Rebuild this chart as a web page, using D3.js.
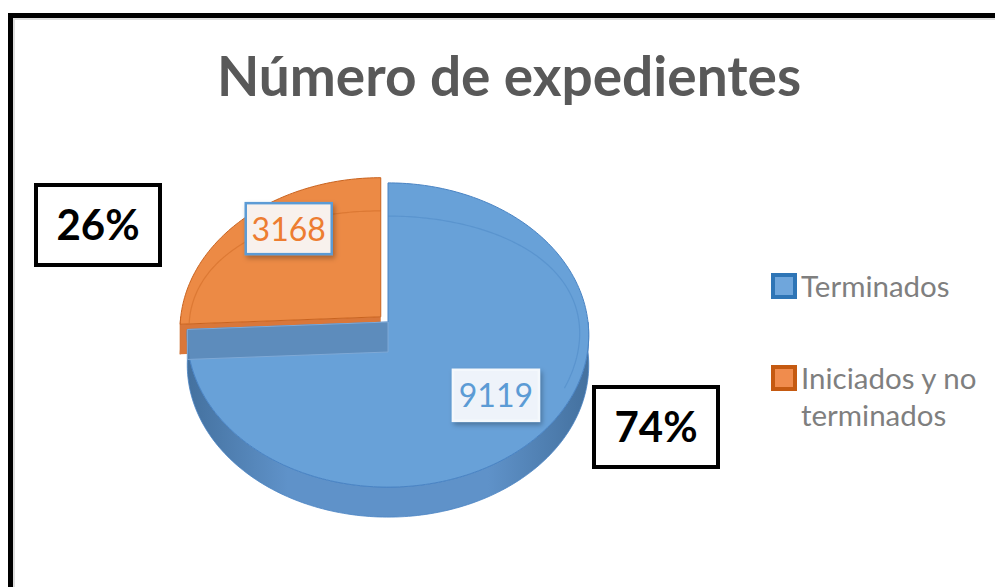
<!DOCTYPE html>
<html>
<head>
<meta charset="utf-8">
<script src="https://cdn.jsdelivr.net/npm/d3@7"></script>
<style>
  html, body { margin: 0; padding: 0; background: #ffffff; }
  svg { display: block; }
</style>
</head>
<body>
<script>
// Número de expedientes - 3D pie, drawn with d3

// data
var categories = ["Terminados", "Iniciados y no terminados"];
var values = [9119, 3168];
var legendLines = [["Terminados"], ["Iniciados y no", "terminados"]];
var chartTitle = "Número de expedientes";

var w = 995, h = 587;
var topColors = ["#68a1d8", "#ec8a45"];
var wallDark = ["#44719f", "#b8561a"];
var wallMid = ["#5f92c9", "#d9773a"];
var lineColors = ["#4a84c4", "#c9631f"];

// pie geometry (center of the top face, radii, perspective, thickness)
var cx = 388, cy = 322, RX = 200, RY = 151, K = 0.0855, D = 30;
var explode = 10;

var svg = d3.select("body").append("svg")
  .attr("width", w)
  .attr("height", h);

var defs = svg.append("defs");
var shadow = defs.append("filter").attr("id", "shadow")
  .attr("x", "-30%").attr("y", "-30%").attr("width", "160%").attr("height", "160%");
shadow.append("feDropShadow")
  .attr("dx", 2).attr("dy", 3).attr("stdDeviation", 2.5)
  .attr("flood-color", "#000").attr("flood-opacity", 0.28);

// wall gradients
[0, 1].forEach(function(i) {
  var g = defs.append("linearGradient").attr("id", "wall" + i)
    .attr("gradientUnits", "userSpaceOnUse")
    .attr("x1", cx - RX).attr("x2", cx + RX).attr("y1", 0).attr("y2", 0);
  g.append("stop").attr("offset", "0%").attr("stop-color", wallDark[i]);
  g.append("stop").attr("offset", "25%").attr("stop-color", wallMid[i]);
  g.append("stop").attr("offset", "75%").attr("stop-color", wallMid[i]);
  g.append("stop").attr("offset", "100%").attr("stop-color", wallDark[i]);
});

// frame
svg.append("rect")
  .attr("x", 10.5).attr("y", 15.5)
  .attr("width", w + 20).attr("height", h + 20)
  .attr("fill", "none").attr("stroke", "#000").attr("stroke-width", 5);
svg.append("rect")
  .attr("x", 14).attr("y", 19)
  .attr("width", w + 20).attr("height", h + 20)
  .attr("fill", "none").attr("stroke", "#dedede").attr("stroke-width", 2);

// title
svg.append("text")
  .attr("x", 509).attr("y", 96)
  .attr("text-anchor", "middle")
  .attr("font-family", "Lato, 'Open Sans', sans-serif")
  .attr("font-weight", "bold")
  .attr("font-size", 55)
  .attr("fill", "#595959")
  .text(chartTitle);

// projection of a point on the disc (angle clockwise from 12 o'clock)
function proj(a, r, dz, off) {
  var s = Math.sin(a) * r, c = Math.cos(a) * r;
  var p = 1 + K * c;
  return [cx + off[0] + RX * s / p, cy + off[1] - RY * c / p + dz];
}
// inner bevel ring, squashed more towards the back
function ring(a, off) {
  var s = Math.sin(a), c = Math.cos(a);
  var p = 1 + 0.218 * c;
  return [cx + off[0] + 0.955 * RX * s / (1 + K * c), cy + off[1] - 129 * c / p];
}

function arcPts(a0, a1, fn) {
  var n = Math.max(2, Math.ceil(Math.abs(a1 - a0) / 0.02));
  var pts = [];
  for (var i = 0; i <= n; i++) {
    pts.push(fn(a0 + (a1 - a0) * i / n));
  }
  return pts;
}

var line = d3.line();

var pie = d3.pie().sort(null).value(function(d) { return d; });
var arcs = pie(values);
var total = d3.sum(values);
var pct = d3.format(".0%");

function offsetOf(d, i) {
  if (i === 0) return [0, 0];
  var m = (d.startAngle + d.endAngle) / 2;
  return [explode * Math.sin(m), -explode * Math.cos(m) * RY / RX];
}

function drawSlice(d, i) {
  var off = offsetOf(d, i);
  var g = svg.append("g").attr("class", "slice");
  var a0 = d.startAngle, a1 = d.endAngle;

  // outer wall (front half only)
  var s = Math.max(a0, Math.PI / 2), e = Math.min(a1, 3 * Math.PI / 2);
  if (e > s) {
    var topA = arcPts(s, e, function(a) { return proj(a, 1, 0, off); });
    var botA = arcPts(e, s, function(a) { return proj(a, 1, D, off); });
    g.append("path")
      .attr("d", line(topA.concat(botA)) + "Z")
      .attr("fill", "url(#wall" + i + ")")
      .attr("stroke", lineColors[i]).attr("stroke-width", 0.8);
  }

  // radial face at start edge (faces front)
  if (i === 1) {
    var c0 = proj(0, 0, 0, off), e0 = proj(a0, 1, 0, off);
    g.append("path")
      .attr("d", line([c0, e0, [e0[0], e0[1] + D], [c0[0], c0[1] + D]]) + "Z")
      .attr("fill", wallMid[i]);
  }

  // top face
  var pts = [proj(0, 0, 0, off)].concat(arcPts(a0, a1, function(a) { return proj(a, 1, 0, off); }));
  g.append("path")
    .attr("d", line(pts) + "Z")
    .attr("fill", topColors[i])
    .attr("stroke", lineColors[i]).attr("stroke-width", 1);

  // bevel ring, only seen on the back part of the disc
  var ra0 = a0, ra1 = Math.min(a1, a0 === 0 ? 2.05 : a1);
  var rr = arcPts(ra0, ra1, function(a) { return ring(a, off); });
  g.append("path")
    .attr("d", line(rr))
    .attr("fill", "none")
    .attr("stroke", lineColors[i]).attr("stroke-opacity", 0.45).attr("stroke-width", 1.2);

  return g;
}

// back slice first, then the big one
drawSlice(arcs[1], 1);
drawSlice(arcs[0], 0);

// translucent cut face of the big slice along its end edge
(function() {
  var d = arcs[0];
  var c0 = proj(0, 0, 0, [0, 0]), e0 = proj(d.endAngle, 1, 0, [0, 0]);
  svg.append("path")
    .attr("d", line([c0, e0, [e0[0], e0[1] + D], [c0[0], c0[1] + D]]) + "Z")
    .attr("fill", "#5a86b3").attr("fill-opacity", 0.75)
    .attr("stroke", "#7fa9d6").attr("stroke-width", 1);
})();

// data labels
var labelR = [0.72, 0.66];
var labelShift = [[-1, -5], [0, -22]];
var labelFill = ["#eef3fa", "#f8f1ed"];
var labelStroke = ["#f4f8fc", "#5b9bd5"];
var labelText = ["#5b9bd5", "#ed7d31"];
arcs.forEach(function(d, i) {
  var m = (d.startAngle + d.endAngle) / 2;
  var p = proj(m, labelR[i], 0, offsetOf(d, i));
  var x = p[0] + labelShift[i][0], y = p[1] + labelShift[i][1];
  var g = svg.append("g").attr("transform", "translate(" + x + "," + y + ")");
  var bw = 86, bh = 51;
  g.append("rect")
    .attr("x", -bw / 2).attr("y", -bh / 2)
    .attr("width", bw).attr("height", bh)
    .attr("fill", labelFill[i])
    .attr("stroke", labelStroke[i]).attr("stroke-width", 2.5)
    .attr("filter", "url(#shadow)");
  g.append("text")
    .attr("text-anchor", "middle")
    .attr("y", 12)
    .attr("font-family", "Lato, 'Open Sans', sans-serif")
    .attr("font-size", 32)
    .attr("fill", labelText[i])
    .text(d.data);
});

// percentage boxes
var pctBoxes = [[656, 427], [98, 225]];
arcs.forEach(function(d, i) {
  var g = svg.append("g").attr("transform", "translate(" + pctBoxes[i][0] + "," + pctBoxes[i][1] + ")");
  g.append("rect")
    .attr("x", -62).attr("y", -40)
    .attr("width", 124).attr("height", 80)
    .attr("fill", "#fff").attr("stroke", "#000").attr("stroke-width", 4);
  g.append("text")
    .attr("text-anchor", "middle")
    .attr("y", 15)
    .attr("font-family", "Lato, 'Open Sans', sans-serif")
    .attr("font-weight", "bold")
    .attr("font-size", 42)
    .attr("fill", "#000")
    .text(pct(d.data / total));
});

// legend
var legendY = d3.scaleBand().domain(categories).range([268, 464]);
var legStroke = ["#2e75b6", "#c55a11"];
var legFill = ["#6fa6dc", "#f08c4d"];
categories.forEach(function(c, i) {
  var y0 = legendY(c) + (i === 0 ? 7 : 1);
  svg.append("rect")
    .attr("x", 773).attr("y", y0)
    .attr("width", 22).attr("height", 22)
    .attr("fill", legFill[i]).attr("stroke", legStroke[i]).attr("stroke-width", 4);
  var t = svg.append("text")
    .attr("font-family", "Lato, 'Open Sans', sans-serif")
    .attr("font-size", 29.5)
    .attr("fill", "#7f7f7f");
  legendLines[i].forEach(function(l, k) {
    t.append("tspan")
      .attr("x", 801)
      .attr("y", y0 + 22 + k * 37)
      .text(l);
  });
});
</script>
</body>
</html>
